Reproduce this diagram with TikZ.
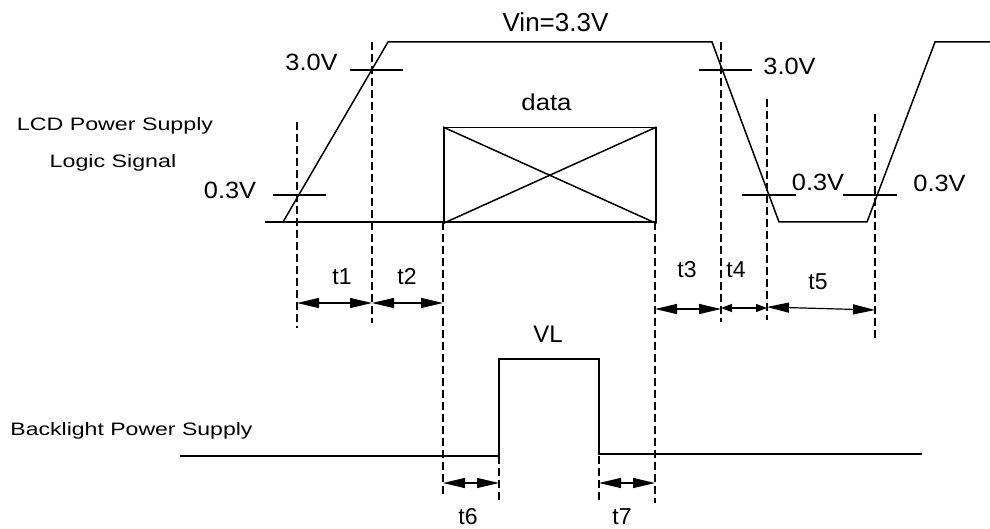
\documentclass[tikz,border=0pt]{standalone}
\usepackage{graphicx}
\usepackage{fontspec}
\setmainfont{Liberation Sans}
\usetikzlibrary{arrows.meta}
\newcommand\sx[2]{\scalebox{#1}[1]{#2}}
\begin{document}
\begin{tikzpicture}[x=1pt,y=-1pt,line width=1.5pt,
  dsh/.style={line width=1.2pt,dash pattern=on 8pt off 4pt},
  dimarrow/.style={line width=1.2pt,{Triangle[length=22pt,width=10pt]}-{Triangle[length=22pt,width=10pt]}},
  smallarrow/.style={line width=1.2pt,{Triangle[length=11pt,width=8pt]}-{Triangle[length=11pt,width=8pt]}},
  lbl/.style={inner sep=0pt,anchor=base},
  volt/.style={lbl,font=\fontsize{23.5}{28}\selectfont},
  side/.style={lbl,font=\fontsize{18}{22}\selectfont},
  tl/.style={lbl,font=\fontsize{23}{27}\selectfont}]
\useasboundingbox (0,0) rectangle (990,529);
% ---------- top waveform ----------
\coordinate (b0) at (265,222);
\coordinate (r1) at (283,222);
\coordinate (r1t) at (388,42);
\coordinate (f1t) at (712,42);
\coordinate (f1) at (779,222);
\coordinate (r2) at (867,222);
\coordinate (r2t) at (935,42);
\coordinate (e2) at (990,42);
\coordinate (b1) at (655,222);
\draw (b0) -- (b1);
\draw (r1) -- (r1t) -- (f1t) -- (f1) -- (r2) -- (r2t) -- (e2);
% threshold ticks
\draw (273,195) -- (326,195);
\draw (350,70) -- (403,70);
\draw (699,70) -- (752,70);
\draw (742,195) -- (796,195);
\draw (843,195) -- (897,195);
% data box
\node (box) [draw,inner sep=0pt,minimum width=212pt,minimum height=95pt,anchor=north west] at (443,127) {};
\draw (box.north west) -- (box.south east);
\draw (box.south west) -- (box.north east);
% ---------- bottom waveform ----------
\coordinate (l0) at (180,456);
\coordinate (l1) at (499,456);
\coordinate (l1t) at (499,359);
\coordinate (l2t) at (599,359);
\coordinate (l2) at (599,454);
\coordinate (l3) at (922,454);
\draw (l0) -- (l1) -- (l1t) -- (l2t) -- (l2) -- (l3);
% ---------- dashed guides ----------
\coordinate (d1a) at (297,122); \coordinate (d1b) at (297,328);
\coordinate (d2a) at (372,42);  \coordinate (d2b) at (372,323);
\coordinate (d3a) at (443,222); \coordinate (d3b) at (443,497);
\coordinate (d4a) at (655,222); \coordinate (d4b) at (655,503);
\coordinate (d5a) at (721,42);  \coordinate (d5b) at (721,322);
\coordinate (d6a) at (767,99);  \coordinate (d6b) at (767,320);
\coordinate (d7a) at (875,114); \coordinate (d7b) at (875,340);
\coordinate (d8a) at (499,456); \coordinate (d8b) at (499,503);
\coordinate (d9a) at (599,456); \coordinate (d9b) at (599,500);
\foreach \n in {1,...,9} {\draw[dsh] (d\n a) -- (d\n b);}
% ---------- timing arrows ----------
\coordinate (a1) at (297,303); \coordinate (a2) at (372,303); \coordinate (a3) at (443,303);
\draw[dimarrow] (a1) -- (a2);
\draw[dimarrow] (a2) -- (a3);
\coordinate (a4) at (655,309); \coordinate (a5) at (721,309);
\coordinate (a6) at (721,308); \coordinate (a7) at (767,308);
\coordinate (a8) at (767,307); \coordinate (a9) at (875,310);
\draw[dimarrow] (a4) -- (a5);
\draw[smallarrow] (a6) -- (a7);
\draw[dimarrow] (a8) -- (a9);
\coordinate (a10) at (443,483); \coordinate (a11) at (499,483);
\coordinate (a12) at (599,483); \coordinate (a13) at (655,483);
\draw[dimarrow] (a10) -- (a11);
\draw[dimarrow] (a12) -- (a13);
% ---------- labels ----------
\node (vin) [lbl,font=\fontsize{26}{30}\selectfont] at (555.5,32) {Vin=3.3V};
\node (data) [lbl,font=\fontsize{23}{27}\selectfont] at (546.5,111) {\sx{1.12}{data}};
\node (v30l) [volt] at (311.5,71) {\sx{1.08}{3.0V}};
\node (v30r) [volt] at (789.5,75) {\sx{1.08}{3.0V}};
\node (v03l) [volt] at (230,199) {\sx{1.08}{0.3V}};
\node (v03m) [volt] at (818,191) {\sx{1.08}{0.3V}};
\node (v03r) [volt] at (939.5,192) {\sx{1.08}{0.3V}};
\node (lcd) [side] at (115,131) {\sx{1.29}{LCD Power Supply}};
\node (logic) [side] at (113,168) {\sx{1.29}{Logic Signal}};
\node (back) [side] at (131.5,435) {\sx{1.28}{Backlight Power Supply}};
\node (t1) [tl] at (342,284) {t1};
\node (t2) [tl] at (407,284) {t2};
\node (t3) [tl] at (687,278) {t3};
\node (t4) [tl] at (736,277) {t4};
\node (t5) [tl] at (818,289) {t5};
\node (vl) [lbl,font=\fontsize{24}{28}\selectfont] at (548,342) {VL};
\node (t6) [tl] at (468,524) {t6};
\node (t7) [tl] at (622,524) {t7};
\end{tikzpicture}
\end{document}
